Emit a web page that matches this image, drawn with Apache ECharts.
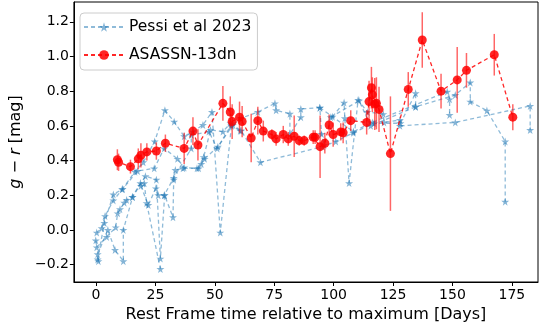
<!DOCTYPE html>
<html><head><meta charset="utf-8">
<script src="https://cdn.jsdelivr.net/npm/echarts@6/dist/echarts.min.js"></script>
<style>html,body{margin:0;padding:0;background:#fff}#c{width:548px;height:331px}</style>
</head><body><div id="c"></div>
<script>
// ---- Data ----
const xTicks = [0, 25, 50, 75, 100, 125, 150, 175];
const yTicks = [-0.2, 0, 0.2, 0.4, 0.6, 0.8, 1.0, 1.2];

// ASASSN-13dn: days, g-r colour, error
const asDays = [9.0, 9.5, 14.5, 17.8, 18.9, 21.4, 25.4, 29.2, 37.1, 40.8, 42.9, 53.4, 56.5, 57.3, 60.4, 61.5, 65.3, 68.1, 70.4, 74.0, 75.8, 78.8, 80.9, 83.4, 85.5, 87.6, 91.4, 92.2, 94.3, 96.3, 98.1, 99.8, 103.0, 104.0, 107.2, 113.9, 114.9, 115.9, 116.3, 117.3, 118.0, 119.1, 123.9, 131.4, 137.3, 145.2, 152.0, 155.9, 167.6, 175.4];
const asColor = [0.405, 0.39, 0.365, 0.41, 0.43, 0.45, 0.455, 0.50, 0.47, 0.57, 0.49, 0.73, 0.68, 0.625, 0.65, 0.625, 0.53, 0.63, 0.57, 0.55, 0.525, 0.55, 0.525, 0.54, 0.515, 0.515, 0.535, 0.535, 0.48, 0.50, 0.605, 0.55, 0.565, 0.56, 0.63, 0.62, 0.74, 0.82, 0.78, 0.726, 0.73, 0.695, 0.44, 0.81, 1.095, 0.80, 0.865, 0.92, 1.01, 0.65];
const asErr = [0.06, 0.05, 0.04, 0.06, 0.07, 0.05, 0.05, 0.05, 0.09, 0.08, 0.09, 0.10, 0.09, 0.10, 0.09, 0.09, 0.14, 0.08, 0.06, 0.03, 0.04, 0.05, 0.04, 0.12, 0.03, 0.03, 0.04, 0.04, 0.18, 0.06, 0.06, 0.07, 0.05, 0.06, 0.06, 0.07, 0.12, 0.12, 0.10, 0.15, 0.15, 0.13, 0.33, 0.10, 0.16, 0.10, 0.19, 0.10, 0.12, 0.075];

// Pessi et al 2023 comparison sample, one track per object: [day, g-r]
const pessiTrack1 = [[0.3,-0.015],[2.4,0.01],[3.8,0.08],[7.3,0.17],[11.2,0.236],[17.5,0.34],[24.5,0.355],[28.7,0.47],[34.3,0.41],[37.1,0.36],[43.2,0.355],[45.7,0.41],[51.3,0.48],[57.6,0.605],[61.1,0.572],[69.2,0.39],[95.3,0.48],[100.9,0.51],[108.3,0.56],[117.0,0.615],[128.1,0.615],[134.5,0.788],[134.5,0.71]];
const pessiTrack2 = [[0.7,-0.17],[3.5,0.04],[7.3,0.205],[11.0,0.234],[16.4,0.336],[19.9,0.39],[24.7,0.51],[29.0,0.69],[32.9,0.624],[37.1,0.54],[40.8,0.567],[45.0,0.605],[48.8,0.68],[52.3,-0.015],[57.0,0.60],[61.1,0.644],[68.1,0.68],[75.3,0.73],[75.8,0.69],[81.6,0.67],[81.6,0.55],[86.2,0.65],[86.2,0.697],[94.2,0.705],[94.9,0.553],[96.0,0.49]];
const pessiTrack3 = [[-0.1,-0.06],[0.3,-0.1],[4.5,-0.04],[8.3,0.015],[9.1,0.096],[10.1,0.12],[11.9,0.157],[12.9,0.173],[15.3,0.19],[18.7,0.27],[20.3,0.269],[21.3,0.155],[27.1,-0.225]];
const pessiTrack4 = [[1.0,-0.18],[0.7,-0.14],[5.0,0.0],[8.0,-0.115],[11.5,-0.18],[11.5,0.0],[15.4,0.19],[20.8,0.31],[25.4,0.29],[27.1,-0.165],[28.9,0.2],[32.4,0.073],[32.7,0.29],[33.4,0.346],[36.6,0.355],[42.5,0.355],[44.3,0.38],[45.3,0.42],[48.2,0.576],[53.4,0.567],[56.6,0.615]];
const pessiTrack5 = [[18.9,0.254],[22.0,0.144],[25.2,0.24],[26.2,0.2],[28.7,0.2],[32.7,0.30],[40.1,0.47],[40.1,0.547],[47.5,0.567],[51.0,0.47],[56.9,0.605],[60.7,0.572]];
const pessiTrack6 = [[99.5,0.653],[104.4,0.734],[104.7,0.644],[106.5,0.27],[110.3,0.75],[114.2,0.68],[120.9,0.668],[121.2,0.62],[127.9,0.634],[127.9,0.60],[151.2,0.62],[182.7,0.715],[182.7,0.576]];
const pessiTrack7 = [[98.8,0.65],[110.7,0.745],[115.6,0.60],[134.5,0.71],[151.2,0.778],[157.5,0.85],[157.5,0.74],[164.5,0.688],[172.2,0.51],[172.2,0.163]];
const pessiTrack8 = [[94.2,0.705],[108.3,0.567],[116.3,0.62],[147.8,0.797],[148.8,0.753],[148.8,0.663]];
const pessiTracks = [pessiTrack1, pessiTrack2, pessiTrack3, pessiTrack4, pessiTrack5, pessiTrack6, pessiTrack7, pessiTrack8];

// ---- Chart ----
const STAR = 'path://M50,0 L61,35 L98,35 L68,57 L79,91 L50,70 L21,91 L32,57 L2,35 L39,35 Z';
const blueLine = 'rgba(31,119,180,0.5)';
const blueMark = 'rgba(31,119,180,0.55)';
const FONT = 'DejaVu Sans';

const series = [];
pessiTracks.forEach(function (tr) {
  series.push({
    name: 'Pessi et al 2023', type: 'line', data: tr,
    symbol: STAR, symbolSize: 8, showSymbol: true,
    itemStyle: { color: blueMark, borderWidth: 0 },
    lineStyle: { color: blueLine, width: 1.3, type: [4, 3] },
    z: 2, animation: false
  });
});
const asData = asDays.map(function (d, i) { return [d, asColor[i]]; });
series.push({
  name: 'ASASSN-13dn', type: 'line', data: asData,
  symbol: 'circle', symbolSize: 9,
  itemStyle: { color: 'rgba(255,0,0,0.85)', borderWidth: 0 },
  lineStyle: { color: 'rgba(255,0,0,0.85)', width: 1.3, type: [4, 3] },
  z: 5, animation: false
});
series.push({
  name: 'err', type: 'custom', z: 4, animation: false,
  data: asDays.map(function (d, i) { return [d, asColor[i] - asErr[i], asColor[i] + asErr[i]]; }),
  renderItem: function (params, api) {
    const p1 = api.coord([api.value(0), api.value(1)]);
    const p2 = api.coord([api.value(0), api.value(2)]);
    return { type: 'line', shape: { x1: p1[0], y1: p1[1], x2: p2[0], y2: p2[1] },
      style: { stroke: 'rgba(255,0,0,0.6)', lineWidth: 1.5 } };
  }
});

const chart = echarts.init(document.getElementById('c'), null, { renderer: 'canvas' });
chart.setOption({
  animation: false,
  backgroundColor: '#fff',
  grid: { left: 72, right: 10, top: 2, bottom: 49, show: true, borderColor: '#000', borderWidth: 1, backgroundColor: 'transparent' },
  legend: {
    data: ['Pessi et al 2023', 'ASASSN-13dn'], orient: 'vertical', left: 80, top: 13,
    itemWidth: 40, itemHeight: 12, itemGap: 12,
    textStyle: { fontFamily: FONT, fontSize: 15.5, color: '#000' },
    backgroundColor: 'rgba(255,255,255,0.8)', borderColor: '#ccc', borderWidth: 1, borderRadius: 4,
    padding: [6, 6, 7, 3]
  },
  xAxis: {
    type: 'value', min: -9.3, max: 186,
    name: 'Rest Frame time relative to maximum [Days]', nameLocation: 'middle', nameGap: 25,
    nameTextStyle: { fontFamily: FONT, fontSize: 16, color: '#000' },
    axisLine: { show: true, onZero: false, lineStyle: { color: '#000' } },
    axisTick: { show: true, customValues: xTicks, length: 4, lineStyle: { color: '#000' } },
    axisLabel: { customValues: xTicks, fontFamily: FONT, fontSize: 14, color: '#000', margin: 6 },
    splitLine: { show: false }
  },
  yAxis: {
    type: 'value', min: -0.3, max: 1.314,
    name: '{i|g} − {i|r} [mag]', nameLocation: 'middle', nameGap: 43, nameRotate: 90,
    nameTextStyle: { fontFamily: FONT, fontSize: 16, color: '#000', rich: { i: { fontFamily: FONT, fontSize: 16, fontStyle: 'italic', color: '#000' } } },
    axisLine: { show: true, onZero: false, lineStyle: { color: '#000' } },
    axisTick: { show: true, customValues: yTicks, length: 4, lineStyle: { color: '#000' } },
    axisLabel: { customValues: yTicks, fontFamily: FONT, fontSize: 14, color: '#000', margin: 5,
      formatter: function (v) { return (v < 0 ? '−' : '') + Math.abs(v).toFixed(1); } },
    splitLine: { show: false }
  },
  series: series
});
</script></body></html>
